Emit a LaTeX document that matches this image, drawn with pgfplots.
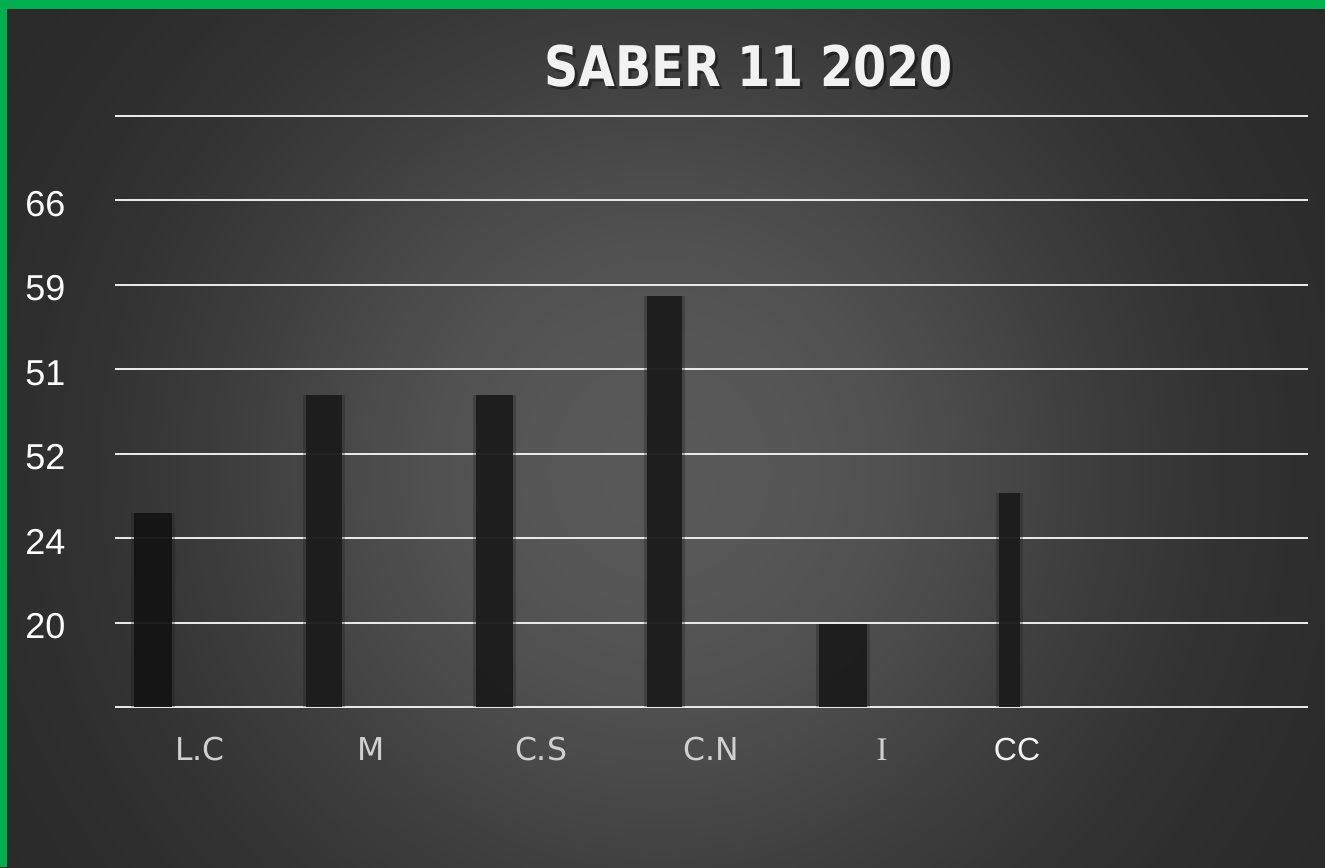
\documentclass[border=0pt]{standalone}
\usepackage{fontspec}
\setmainfont{Liberation Sans}
\newfontfamily\dvs{DejaVu Sans}
\newfontfamily\lserif{Liberation Serif}
\usepackage{graphicx}
\usepackage{pgfplots}
\pgfplotsset{compat=1.18}
\definecolor{grn}{HTML}{00B050}
\definecolor{gridc}{HTML}{E8E8E8}
\definecolor{barc}{HTML}{1C1C1C}
\definecolor{barl}{HTML}{141414}
\definecolor{labc}{HTML}{D0D0D0}
\definecolor{titc}{HTML}{F2F2F2}
\newcommand{\xl}{\fontsize{15.75}{18}\selectfont}
\pgfplotsset{
  halo/.style={ybar, bar shift=0pt, fill=barc, draw=none, fill opacity=0.3},
  core/.style={ybar, bar shift=0pt, fill=barc, draw=none, fill opacity=0.94},
}
\begin{document}
\begin{tikzpicture}
\useasboundingbox (0,0) rectangle (662.5pt,433.5pt);
\begin{scope}
\clip (0,0) rectangle (662.5pt,433.5pt);
\foreach \r in {880,870,...,10}{
  \pgfmathsetmacro\g{(40+48*exp(-((\r/480)^2.4)))/255}
  \definecolor{tmpc}{gray}{\g}
  \fill[tmpc] (330pt,198.5pt) circle ({\r*0.5pt});
}
\end{scope}
\fill[grn] (0,0) rectangle (3.5pt,433.5pt);
\fill[grn] (0,429pt) rectangle (662.5pt,433.5pt);
\begin{axis}[
  at={(57.5pt,80pt)}, anchor=south west,
  scale only axis, width=596.5pt, height=295.5pt,
  xmin=115, xmax=1308, ymin=0, ymax=7,
  axis line style={draw=none},
  tick style={draw=none}, major tick length=0pt,
  ytick={0,1,2,3,4,5,6,7},
  yticklabels={,20,24,52,51,59,66,},
  ymajorgrids,
  major grid style={line width=1.05pt, color=gridc},
  yticklabel style={anchor=base west, inner sep=0pt, xshift=-45pt, yshift=-8pt, text=white, font=\fontsize{18}{20}\selectfont},
  xtick={200,371,541,711,882,1017},
  xticklabels={{\dvs\xl L.C},{\dvs\xl M},{\dvs\xl C.S},{\dvs\xl C.N},{\lserif\fontsize{16.5}{18}\selectfont I},{\color{titc}\fontsize{16}{18}\selectfont CC}},
  xticklabel style={anchor=base, inner sep=0pt, yshift=-26.5pt, text=labc},
]
% soft edges (halo) of the bars
\addplot[halo, bar width=44] coordinates {(152.5,2.30)};
\addplot[halo, bar width=42] coordinates {(323.5,3.695)};
\addplot[halo, bar width=43] coordinates {(494,3.695)};
\addplot[halo, bar width=41] coordinates {(664,4.868)};
\addplot[halo, bar width=54] coordinates {(842.5,0.983)};
\addplot[halo, bar width=27] coordinates {(1009,2.535)};
% bars
\addplot[core, fill=barl, bar width=38] coordinates {(152.5,2.30)};
\addplot[core, bar width=36] coordinates {(323.5,3.695)};
\addplot[core, bar width=37] coordinates {(494,3.695)};
\addplot[core, bar width=35] coordinates {(664,4.868)};
\addplot[core, bar width=48] coordinates {(842.5,0.983)};
\addplot[core, bar width=21] coordinates {(1009,2.535)};
\end{axis}
\node[text=black, opacity=0.4, font=\dvs\bfseries\fontsize{28}{30}\selectfont] at (375.75pt,398.75pt) {\scalebox{0.85}[1]{SABER 11 2020}};
\node[text=titc, font=\dvs\bfseries\fontsize{28}{30}\selectfont] at (374.25pt,400.25pt) {\scalebox{0.85}[1]{SABER 11 2020}};
\end{tikzpicture}
\end{document}
